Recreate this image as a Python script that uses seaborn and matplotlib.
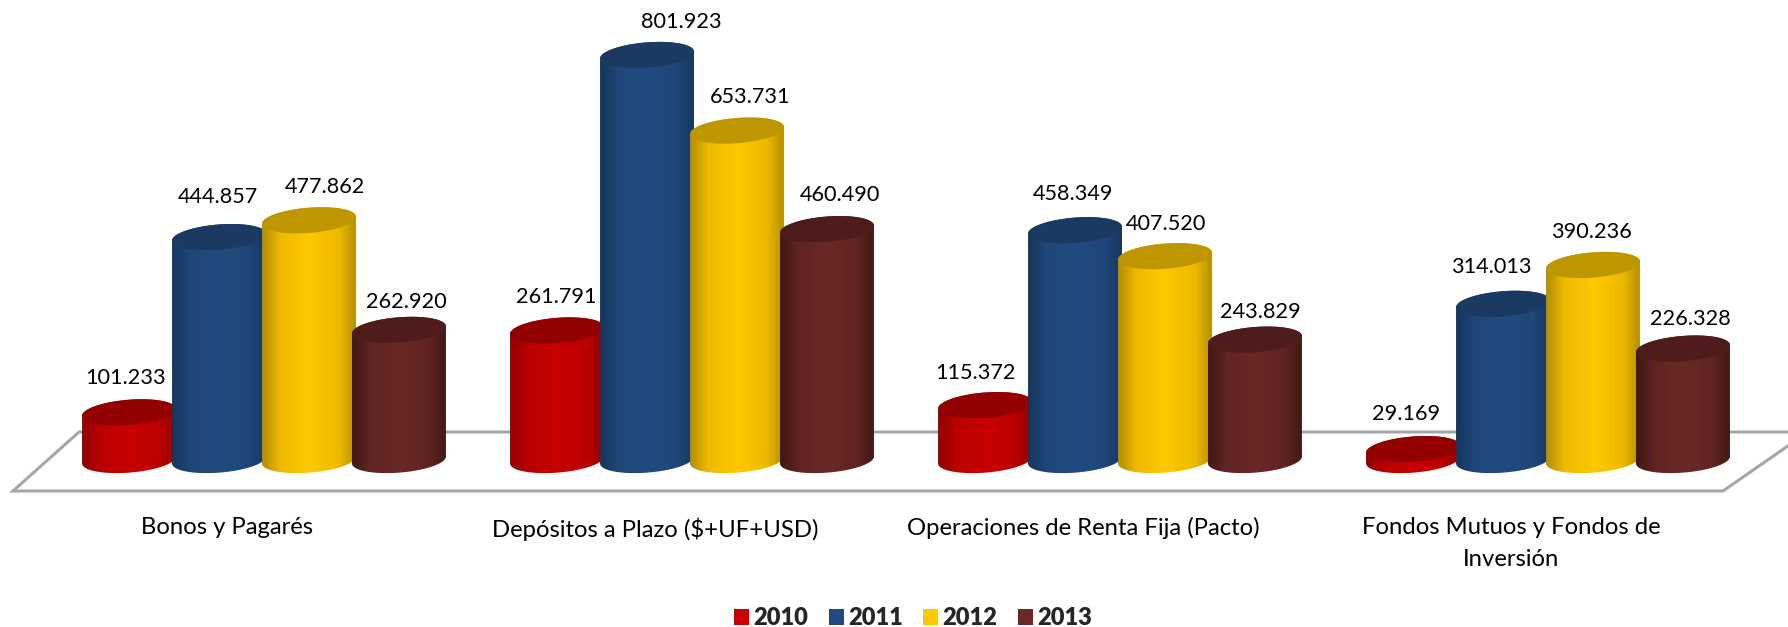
import numpy as np
import pandas as pd
import seaborn as sns
import matplotlib
matplotlib.use("Agg")
import matplotlib.pyplot as plt
from matplotlib.colors import LinearSegmentedColormap, to_rgb
from matplotlib.patches import Patch, Polygon, Rectangle
from matplotlib.path import Path
from matplotlib.transforms import IdentityTransform, ScaledTranslation

categories = ["Bonos y Pagarés", "Depósitos a Plazo ($+UF+USD)",
              "Operaciones de Renta Fija (Pacto)", "Fondos Mutuos y Fondos de\nInversión"]
years = ["2010", "2011", "2012", "2013"]
v2010 = [101.233, 261.791, 115.372, 29.169]
v2011 = [444.857, 801.923, 458.349, 314.013]
v2012 = [477.862, 653.731, 407.520, 390.236]
v2013 = [262.920, 460.490, 243.829, 226.328]
colors = ["#C80000", "#214B80", "#FFC800", "#6A2826"]
edges = ["#8C0000", "#16355C", "#B08A00", "#3E1614"]
caps = ["#920000", "#1A3A62", "#BD9600", "#4E1C1A"]
# hand placement of the data labels (pixels; x right, y down), one row per year
label_dx = [[-3, 0, -9, -6], [0, 35, -1, -11], [17, 14, 2, -1], [8, 14, 6, 8]]
label_dy = [[2, 3, 4, 1], [-4, 3, 0, -1], [3, 2, 4, 3], [8, 2, 8, 6]]

sns.set_theme(style="white")
plt.rcParams["font.family"] = ["Lato", "DejaVu Sans"]

W, H, DPI = 1788, 627, 100
FS = 15.6
FS_TICK = 17.2
fig = plt.figure(figsize=(W / DPI, H / DPI), dpi=DPI, facecolor="white")
ax = fig.add_axes([0, (H - 491) / H, 1, 491 / H])
ax.patch.set_alpha(0)

df = pd.DataFrame({
    "cat": categories * 4,
    "year": np.repeat(years, 4),
    "value": v2010 + v2011 + v2012 + v2013,
})
sns.barplot(data=df, x="cat", y="value", hue="year", order=categories, hue_order=years,
            palette=colors, width=0.841, gap=0, legend=False, ax=ax, saturation=1)
xlim = (-264 / 428, (W - 264) / 428)
ylim = ((464 - 491) / 0.51, 464 / 0.51)
ax.set_xlim(*xlim)
ax.set_ylim(*ylim)
ax.set_xlabel("")
ax.set_ylabel("")
ax.set_yticks([])
sns.despine(ax=ax, left=True, bottom=True, top=True, right=True)
ax.tick_params(axis="x", length=0, pad=19, labelsize=FS_TICK, colors="black")
for lab in ax.get_xticklabels():
    lab.set_transform(lab.get_transform() + ScaledTranslation(-37 / DPI, 0, fig.dpi_scale_trans))
    lab.set_linespacing(1.62)

bars = [b for b in ax.patches if isinstance(b, Rectangle) and b.get_width() > 0]

# floor of the 3D scene, in pixel space
fx = [13, 79, W + 20, 1723]
fy = [H - 491, H - 432, H - 432, H - 491]
ax.add_patch(Polygon(np.c_[fx, fy], closed=True, facecolor="white", edgecolor="#A6A6A6", lw=2.2,
                     transform=IdentityTransform(), clip_on=False, zorder=1, joinstyle="miter"))

# cylinder geometry (pixels)
A, B, THETA = 47.1, 12.6, np.radians(4.6)
t = np.linspace(0, 2 * np.pi, 180, endpoint=False)
ex = A * np.cos(t) * np.cos(THETA) - B * np.sin(t) * np.sin(THETA)
ey = A * np.cos(t) * np.sin(THETA) + B * np.sin(t) * np.cos(THETA)
il, ir = int(np.argmin(ex)), int(np.argmax(ex))
order_low = np.arange(il, il + ((ir - il) % 180) + 1) % 180
order_up = np.arange(ir, ir + ((il - ir) % 180) + 1) % 180
BASE_LIFT = 4
trans = ax.transData
n = len(categories)
for idx, bar in enumerate(bars):
    s = idx // n
    g = idx % n
    x0, w, h = bar.get_x(), bar.get_width(), bar.get_height()
    xc = x0 + w / 2
    px_base = trans.transform((xc, 0))
    px_top = trans.transform((xc, h))
    bar.set_visible(False)
    cx, by, ty = px_base[0], px_base[1] + BASE_LIFT, px_top[1]
    pts = np.r_[np.c_[cx + ex[order_low], by + ey[order_low]],
                np.c_[cx + ex[order_up], ty + ey[order_up]]]
    e_rgb, c_rgb = np.array(to_rgb(edges[s])), np.array(to_rgb(colors[s]))
    mid = tuple(e_rgb + 0.78 * (c_rgb - e_rgb))
    cmap = LinearSegmentedColormap.from_list(
        "c", [(0, edges[s]), (0.2, mid), (0.5, colors[s]), (0.8, mid), (1, edges[s])])
    grad = np.linspace(0, 1, 256)[None, :]
    dl = trans.inverted().transform((cx - A - 1, by - 30))
    dr = trans.inverted().transform((cx + A + 1, ty + 30))
    im = ax.imshow(grad, cmap=cmap, aspect="auto", extent=(dl[0], dr[0], dl[1], dr[1]),
                   zorder=3 + 2 * s, interpolation="bilinear")
    im.set_clip_path(Path(np.r_[pts, pts[:1]], closed=True), IdentityTransform())
    ax.add_patch(Polygon(np.c_[cx + ex, ty + ey], closed=True, facecolor=caps[s], edgecolor="none",
                         transform=IdentityTransform(), zorder=3.5 + 2 * s, clip_on=False))
    ax.annotate(f"{h:.3f}", xy=(xc, h),
                xytext=((-1 + label_dx[s][g]) * 0.72, (36 - label_dy[s][g]) * 0.72),
                textcoords="offset points",
                ha="center", va="center", fontsize=FS, color="black", zorder=20,
                annotation_clip=False)
ax.set_xlim(*xlim)
ax.set_ylim(*ylim)

handles = [Patch(facecolor=c, edgecolor="none", label=y) for c, y in zip(colors, years)]
fig.legend(handles=handles, loc="center", bbox_to_anchor=(913 / W, 1 - 618 / H), ncol=4,
           frameon=False, prop={"weight": "heavy", "size": 17}, handlelength=0.65, handleheight=0.65,
           handletextpad=0.18, columnspacing=0.85, borderpad=0)

fig.savefig("out.png", dpi=DPI, facecolor="white")
